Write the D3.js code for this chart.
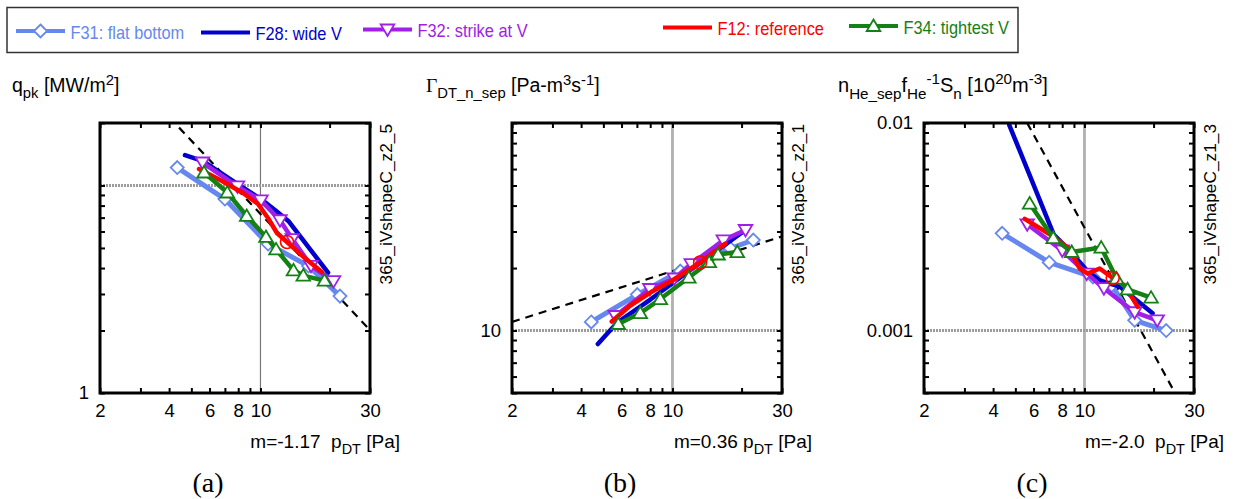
<!DOCTYPE html>
<html>
<head>
<meta charset="utf-8">
<script src="https://cdn.jsdelivr.net/npm/d3@7"></script>
<style>
body { margin: 0; background: #fff; }
text { font-family: "Liberation Sans", Arial, sans-serif; }
</style>
</head>
<body>
<svg id="chart" width="1235" height="499"></svg>
<script>
// ---- data ----
var seriesNames = ["F31: flat bottom", "F28: wide V", "F32: strike at V", "F12: reference", "F34: tightest V"];
var seriesColors = ["#6688ee", "#0000cc", "#a020e8", "#ff0000", "#158015"];
var seriesMarkers = ["diamond", null, "tri-down", null, "tri-up"];

var xTicks = [2, 3, 4, 5, 6, 7, 8, 9, 10, 20, 30];
var xTickLabels = [2, 4, 6, 8, 10, 30];

// (a) peak heat flux
var qpkF31 = [[4.34, 12.2], [7.0, 8.6], [10.8, 5.22], [16.2, 4.09], [22.2, 2.93]];
var qpkF28 = [[4.69, 14.0], [5.62, 13.1], [7.9, 10.2], [10.05, 8.6], [11.6, 7.6], [13.3, 6.7], [19.7, 3.8]];
var qpkF32 = [[5.59, 12.9], [7.94, 9.9], [10.05, 8.47], [12.16, 6.8], [13.76, 5.52], [16.6, 4.1], [20.8, 3.46]];
var qpkF12 = [[5.4, 12.0], [6.8, 10.5], [8.39, 9.2], [9.76, 8.14], [10.78, 6.97], [11.8, 5.9], [13.05, 5.34], [15.6, 4.47], [18.5, 3.83]];
var qpkF34 = [[5.68, 11.55], [7.17, 9.25], [8.71, 7.13], [10.57, 5.65], [11.69, 4.92], [13.93, 3.9], [15.37, 3.68], [19.0, 3.48]];
var qpkFit = [[4.42, 19.0], [29.5, 2.05]];
var qpkYTicks = [1, 2, 3, 4, 5, 6, 7, 8, 9, 10, 20];
var qpkYLabels = [1];

// (b) DT flux
var gamF31 = [[4.43, 11.0], [7.03, 14.9], [10.82, 19.35], [13.9, 21.75], [17.86, 24.85], [22.5, 27.3]];
var gamF28 = [[4.73, 8.61], [5.75, 10.93], [8.01, 14.1], [10.82, 18.0], [14.6, 23.0], [20.1, 29.7]];
var gamF32 = [[5.64, 11.75], [7.97, 15.85], [10.19, 17.81], [12.08, 20.9], [16.65, 27.2], [20.8, 30.5]];
var gamF12 = [[5.44, 11.05], [6.55, 13.2], [8.01, 15.24], [9.98, 17.42], [13.2, 21.27], [16.99, 26.26]];
var gamF34 = [[5.81, 10.75], [7.24, 12.14], [8.85, 14.18], [11.78, 18.0], [14.47, 21.38], [15.8, 23.24], [19.16, 23.89]];
var gamFit = [[2, 11.0], [30, 28.4]];
var gamYTicks = [5, 6, 7, 8, 9, 10, 20, 30, 40, 50, 60, 70, 80, 90, 100];
var gamYLabels = [10];

// (c) He density
var nF31 = [[4.38, 0.00294], [7.02, 0.00213], [10.89, 0.00181], [13.14, 0.00165], [16.55, 0.00112], [22.7, 0.00100]];
var nF28 = [[4.7, 0.0098], [7.35, 0.0029], [8.62, 0.00243], [10.23, 0.00195], [11.65, 0.00174], [14.24, 0.00163], [19.8, 0.00121]];
var nF32 = [[5.63, 0.00325], [8.0, 0.00243], [10.23, 0.00188], [12.15, 0.0016], [16.55, 0.001225], [20.74, 0.00112]];
var nF12 = [[5.49, 0.00345], [7.2, 0.00287], [8.62, 0.00247], [9.53, 0.00199], [10.33, 0.00188], [11.65, 0.00199], [13.27, 0.00179], [14.97, 0.00165], [17.06, 0.0013]];
var nF34 = [[5.77, 0.00409], [7.31, 0.00279], [8.8, 0.00239], [11.83, 0.00251], [13.8, 0.00178], [15.4, 0.00158], [19.5, 0.00144]];
var nFit = [[5.63, 0.01], [24.8, 0.0005]];
var nYTicks = [0.0005, 0.0006, 0.0007, 0.0008, 0.0009, 0.001, 0.002, 0.003, 0.004, 0.005, 0.006, 0.007, 0.008, 0.009, 0.01];
var nYLabels = [0.001, 0.01];

// ---- layout ----
var svg = d3.select("#chart");
var plotW = 270, plotH = 270, plotTop = 123;

var panels = [
	{left: 100, yDomain: [1, 20], series: [qpkF31, qpkF28, qpkF32, qpkF12, qpkF34], fit: qpkFit, refIdx: 6,
	 yTicks: qpkYTicks, yLabels: qpkYLabels, gridY: 10, thinV: true,
	 title: [["q"], ["pk", "sub"], [" [MW/m"], ["2", "sup"], ["]"]], slope: "m=-1.17  ",
	 tag: "365_iVshapeC_z2_5", caption: "(a)", titleX: 12},
	{left: 512, yDomain: [5, 100], series: [gamF31, gamF28, gamF32, gamF12, gamF34], fit: gamFit, refIdx: 4,
	 yTicks: gamYTicks, yLabels: gamYLabels, gridY: 10, thinV: false,
	 title: [["\u0393", null, "serif"], ["DT_n_sep", "sub"], [" [Pa-m"], ["3", "sup"], ["s"], ["-1", "sup"], ["]"]], slope: "m=0.36 ",
	 tag: "365_iVshapeC_z2_1", caption: "(b)", titleX: 426},
	{left: 924, yDomain: [0.0005, 0.01], series: [nF31, nF28, nF32, nF12, nF34], fit: nFit, refIdx: 6,
	 yTicks: nYTicks, yLabels: nYLabels, gridY: 0.001, thinV: false,
	 title: [["n"], ["He_sep", "sub"], ["f"], ["He", "sub"], ["-1", "sup"], ["S"], ["n", "sub"], [" [10"], ["20", "sup"], ["m"], ["-3", "sup"], ["]"]], slope: "m=-2.0  ",
	 tag: "365_iVshapeC_z1_3", caption: "(c)", titleX: 838}
];

// text with sub/superscripts
function richText(g, x, y, parts, size, anchor) {
	var t = g.append("text")
		.attr("x", x).attr("y", y)
		.attr("font-size", size)
		.attr("text-anchor", anchor || "start")
		.style("white-space", "pre");
	var shift = 0;
	parts.forEach(function (p) {
		var target = p[1] === "sub" ? size * 0.33 : (p[1] === "sup" ? -size * 0.38 : 0);
		var ts = t.append("tspan")
			.attr("dy", target - shift)
			.attr("font-size", p[1] ? size * 0.76 : size)
			.text(p[0]);
		if (p[2] === "serif") ts.style("font-family", "'Liberation Serif', 'Times New Roman', serif");
		shift = target;
	});
	return t;
}

function markerPath(type) {
	if (type === "diamond") return "M0,-6.5L6.5,0L0,6.5L-6.5,0Z";
	if (type === "tri-up") return "M0,-6.5L6.8,5L-6.8,5Z";
	if (type === "tri-down") return "M0,6.5L6.8,-5L-6.8,-5Z";
	return null;
}

panels.forEach(function (p, pi) {
	var x = d3.scaleLog().domain([2, 30]).range([0, plotW]);
	var y = d3.scaleLog().domain(p.yDomain).range([plotH, 0]);

	var g = svg.append("g").attr("transform", "translate(" + p.left + "," + plotTop + ")");

	// clip
	g.append("clipPath").attr("id", "clip" + pi)
		.append("rect").attr("width", plotW).attr("height", plotH);

	// grid lines at the reference values
	g.append("line")
		.attr("x1", x(10)).attr("x2", x(10)).attr("y1", 0).attr("y2", plotH)
		.attr("stroke", p.thinV ? "#777" : "#b0b0b0")
		.attr("stroke-width", p.thinV ? 1.2 : 2.8);
	g.append("line")
		.attr("x1", 0).attr("x2", plotW).attr("y1", y(p.gridY)).attr("y2", y(p.gridY))
		.attr("stroke", "#9c9c9c").attr("stroke-width", 3)
		.attr("stroke-dasharray", "2,1");

	// axes, ticks pointing inward
	var fmtX = function (d) { return xTickLabels.indexOf(d) >= 0 ? d : ""; };
	var fmtY = function (d) { return p.yLabels.indexOf(d) >= 0 ? d3.format("~g")(d) : ""; };
	var axes = [
		g.append("g").attr("transform", "translate(0," + plotH + ")")
			.call(d3.axisBottom(x).tickValues(xTicks).tickSize(-5).tickPadding(11).tickFormat(fmtX)),
		g.append("g")
			.call(d3.axisTop(x).tickValues(xTicks).tickSize(-5).tickFormat("")),
		g.append("g")
			.call(d3.axisLeft(y).tickValues(p.yTicks).tickSize(-5).tickPadding(11).tickFormat(fmtY)),
		g.append("g").attr("transform", "translate(" + plotW + ",0)")
			.call(d3.axisRight(y).tickValues(p.yTicks).tickSize(-5).tickFormat(""))
	];
	axes.forEach(function (a) {
		a.select(".domain").remove();
		a.selectAll(".tick line").attr("stroke-width", 2);
		a.attr("font-size", 18.5).attr("font-family", "'Liberation Sans', Arial, sans-serif");
	});

	var plot = g.append("g").attr("clip-path", "url(#clip" + pi + ")");

	// fitted scaling line
	plot.append("path")
		.datum(p.fit)
		.attr("d", d3.line().x(function (d) { return x(d[0]); }).y(function (d) { return y(d[1]); }))
		.attr("fill", "none").attr("stroke", "#000")
		.attr("stroke-width", 2.2).attr("stroke-dasharray", "8,6");

	var line = d3.line()
		.x(function (d) { return x(d[0]); })
		.y(function (d) { return y(d[1]); });

	p.series.forEach(function (s, si) {
		plot.append("path")
			.datum(s)
			.attr("d", line)
			.attr("fill", "none")
			.attr("stroke", seriesColors[si])
			.attr("stroke-width", si === 0 ? 5 : 4.5)
			.attr("stroke-linejoin", "round")
			.attr("stroke-linecap", "round");
		if (seriesMarkers[si]) {
			plot.selectAll(".m" + si)
				.data(s)
				.enter().append("path")
				.attr("class", "m" + si)
				.attr("transform", function (d) { return "translate(" + x(d[0]) + "," + y(d[1]) + ")"; })
				.attr("d", markerPath(seriesMarkers[si]))
				.attr("fill", "#fff")
				.attr("stroke", seriesColors[si])
				.attr("stroke-width", 1.8);
		}
	});

	// reference point circle (F12)
	var ref = p.series[3][p.refIdx];
	plot.append("circle")
		.attr("cx", x(ref[0])).attr("cy", y(ref[1])).attr("r", 6.5)
		.attr("fill", "none").attr("stroke", "#ff0000").attr("stroke-width", 1.6);

	// frame
	g.append("rect")
		.attr("width", plotW).attr("height", plotH)
		.attr("fill", "none").attr("stroke", "#000").attr("stroke-width", 3);

	// y title
	richText(svg, p.titleX, 92, p.title, pi === 2 ? 20 : 19.5);

	// x title
	richText(g, plotW + 30, 325, [[p.slope + "p"], ["DT", "sub"], [" [Pa]"]], 19, "end");

	// run tag, rotated
	g.append("text")
		.attr("transform", "translate(" + (plotW + 22) + ",1) rotate(-90)")
		.attr("text-anchor", "end")
		.attr("font-size", 17.3)
		.text(p.tag);

	// caption
	g.append("text")
		.attr("x", 108).attr("y", 368.5)
		.attr("text-anchor", "middle")
		.attr("font-size", 28)
		.style("font-family", "'Liberation Serif', 'Times New Roman', serif")
		.text(p.caption);
});

// ---- legend ----
var legend = svg.append("g");
legend.append("rect")
	.attr("x", 7).attr("y", 7.5).attr("width", 1011).attr("height", 45)
	.attr("fill", "#fff").attr("stroke", "#333").attr("stroke-width", 1.5);

var legX = [16, 201, 363, 663, 849];
var legY = [31, 32.5, 29.5, 27.5, 26];
seriesNames.forEach(function (name, i) {
	var lg = legend.append("g").attr("transform", "translate(" + legX[i] + "," + legY[i] + ")");
	lg.append("line")
		.attr("x1", 0).attr("x2", 49)
		.attr("stroke", seriesColors[i]).attr("stroke-width", 4);
	if (seriesMarkers[i]) {
		lg.append("path")
			.attr("transform", "translate(24.5,0)")
			.attr("d", markerPath(seriesMarkers[i]))
			.attr("fill", "#fff").attr("stroke", seriesColors[i]).attr("stroke-width", 1.8);
	}
	// legend text is slightly condensed in the original
	lg.append("text")
		.attr("transform", "translate(54.5,7.5) scale(0.9,1)")
		.attr("font-size", 18.2)
		.attr("fill", seriesColors[i])
		.text(name);
});
</script>
</body>
</html>
